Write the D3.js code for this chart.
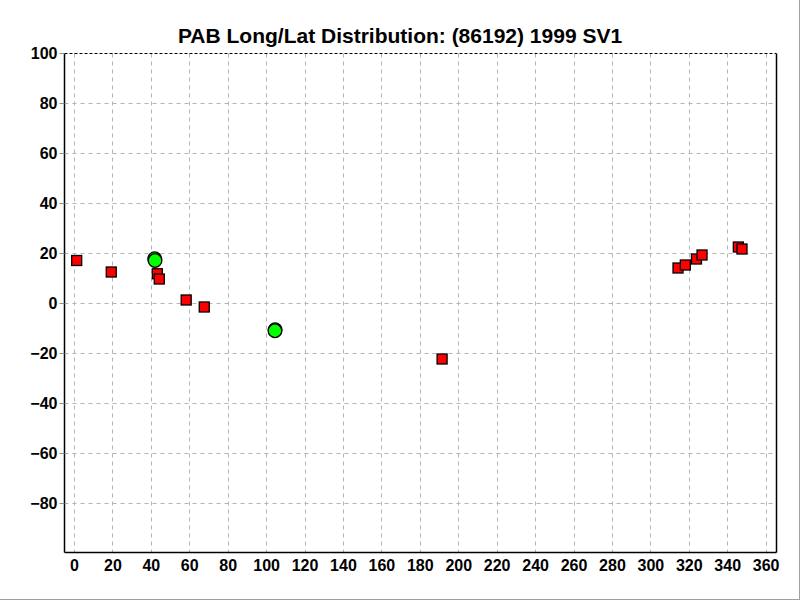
<!DOCTYPE html>
<html>
<head>
<meta charset="utf-8">
<script src="https://cdn.jsdelivr.net/npm/d3@7"></script>
<style>
  html, body { margin: 0; padding: 0; background: #fff; }
  svg { display: block; }
</style>
</head>
<body>
<script>
const title = "PAB Long/Lat Distribution: (86192) 1999 SV1";
const xTicks = [0,20,40,60,80,100,120,140,160,180,200,220,240,260,280,300,320,340,360];
const yTicks = [100,80,60,40,20,0,-20,-40,-60,-80];
// red squares
const squareLong = [1.4, 19.4, 43.4, 44.4, 58.4, 67.8, 191.6, 314.4, 318.2, 324.0, 326.9, 345.8, 347.7];
const squareLat  = [17.0, 12.4, 11.7, 9.6, 1.2, -1.6, -22.4, 14.0, 15.2, 17.6, 19.2, 22.4, 21.6];
// green circles
const circleLong = [42.0, 42.2, 104.7, 104.6];
const circleLat  = [17.7, 17.0, -10.7, -11.1];

const W = 800, H = 600;
const margin = {left: 64, right: 24, top: 53, bottom: 48};
const svg = d3.select("body").append("svg").attr("width", W).attr("height", H);

const x = d3.scaleLinear().domain([-5.2, 365.4]).range([margin.left, W - margin.right]);
const y = d3.scaleLinear().domain([-99.6, 100]).range([H - margin.bottom, margin.top]);

// outer frame (light gray)
svg.append("line").attr("x1", W - 0.5).attr("x2", W - 0.5).attr("y1", 0).attr("y2", H)
  .attr("stroke", "#a0a0a0");
svg.append("line").attr("x1", 0).attr("x2", W).attr("y1", H - 0.5).attr("y2", H - 0.5)
  .attr("stroke", "#a0a0a0");

const x0 = margin.left + 0.5, x1 = W - margin.right + 0.5;
const y0 = margin.top + 0.5, y1 = H - margin.bottom + 0.5;

// grid lines
const grid = svg.append("g");
xTicks.forEach(t => {
  grid.append("line")
    .attr("x1", Math.round(x(t)) + 0.5).attr("x2", Math.round(x(t)) + 0.5)
    .attr("y1", y0).attr("y2", y1)
    .attr("stroke", "#b4b4b4").attr("stroke-dasharray", "4,4");
});
yTicks.filter(t => t !== 100).forEach(t => {
  grid.append("line")
    .attr("x1", x0).attr("x2", x1)
    .attr("y1", Math.round(y(t)) + 0.5).attr("y2", Math.round(y(t)) + 0.5)
    .attr("stroke", "#b4b4b4").attr("stroke-dasharray", "4,4");
});

// top dashed border
svg.append("line").attr("x1", x0).attr("x2", x1).attr("y1", y0).attr("y2", y0)
  .attr("stroke", "#000").attr("stroke-dasharray", "3,2");
// solid borders
svg.append("line").attr("x1", x0).attr("x2", x0).attr("y1", y0).attr("y2", y1).attr("stroke", "#000").attr("stroke-width", 1.5);
svg.append("line").attr("x1", x1).attr("x2", x1).attr("y1", y0).attr("y2", y1).attr("stroke", "#000").attr("stroke-width", 1.5);
svg.append("line").attr("x1", x0).attr("x2", x1).attr("y1", y1).attr("y2", y1).attr("stroke", "#000").attr("stroke-width", 1.5);

// y axis
const yAxis = d3.axisLeft(y).tickValues(yTicks).tickSize(5).tickPadding(2).tickFormat(d3.format("d"));
const gy = svg.append("g").attr("transform", `translate(${x0},0)`).call(yAxis);
gy.select(".domain").remove();
gy.selectAll(".tick line").attr("stroke", "#909090");
gy.selectAll("text").attr("font-family", "Liberation Sans, Arial, sans-serif")
  .attr("font-weight", "bold").attr("font-size", 16).attr("fill", "#000");

// x axis
const xAxis = d3.axisBottom(x).tickValues(xTicks).tickSize(0).tickPadding(7).tickFormat(d3.format("d"));
const gx = svg.append("g").attr("transform", `translate(0,${y1})`).call(xAxis);
gx.select(".domain").remove();
gx.selectAll("text").attr("font-family", "Liberation Sans, Arial, sans-serif")
  .attr("font-weight", "bold").attr("font-size", 16).attr("fill", "#000");

// title
svg.append("text").attr("x", 400).attr("y", 43).attr("text-anchor", "middle")
  .attr("font-family", "Liberation Sans, Arial, sans-serif").attr("font-weight", "bold")
  .attr("font-size", 21).text(title);

// squares
const sq = 10;
svg.append("g").selectAll("rect").data(squareLong.map((d, i) => [d, squareLat[i]]))
  .join("rect")
  .attr("x", d => x(d[0]) - sq / 2).attr("y", d => y(d[1]) - sq / 2)
  .attr("width", sq).attr("height", sq)
  .attr("fill", "#ff0000").attr("stroke", "#000").attr("stroke-width", 1.3);

// circles
svg.append("g").selectAll("circle").data(circleLong.map((d, i) => [d, circleLat[i]]))
  .join("circle")
  .attr("cx", d => x(d[0])).attr("cy", d => y(d[1])).attr("r", 6.8)
  .attr("fill", "#00ff00").attr("stroke", "#000").attr("stroke-width", 1.3);
</script>
</body>
</html>
